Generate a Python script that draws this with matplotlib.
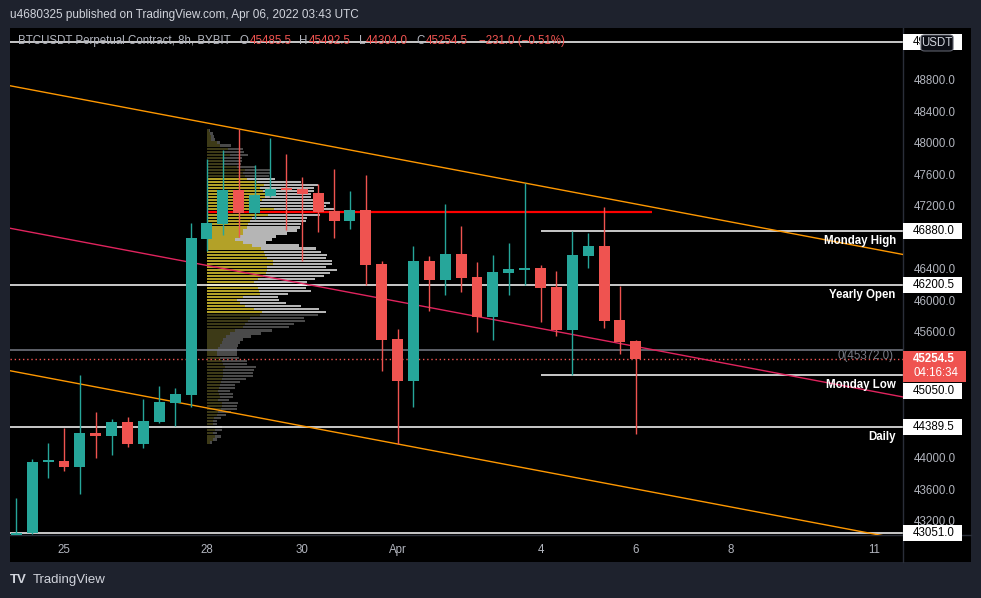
import numpy as np
import pandas as pd
import matplotlib
matplotlib.use('Agg')
import matplotlib.pyplot as plt
import matplotlib.dates as mdates
import matplotlib.transforms as mtransforms
from matplotlib.patches import Rectangle, FancyBboxPatch

plt.rcParams['font.family'] = ['Liberation Sans', 'DejaVu Sans']

# ---------------- data ----------------
times = pd.date_range('2022-03-24 00:00', periods=40, freq='8h')
opens = [42980, 43045, 43949, 43962, 43885, 44317, 44279, 44457, 44178, 44457,
         44698, 44800, 46781, 46971, 47403, 47111, 47327, 47416, 47416, 47365,
         47136, 47009, 47149, 46463, 45511, 44978, 46501, 46260, 46590, 46298,
         45790, 46349, 46387, 46413, 46171, 45625, 46565, 46692, 45752, 45485.5]
highs = [43490, 43987, 44190, 44381, 45054, 44584, 44495, 44520, 44749, 44914,
         44889, 46984, 47797, 47911, 48178, 47721, 48064, 47860, 47568, 47479,
         47670, 47390, 47594, 46501, 45638, 46692, 46565, 47225, 46946, 46489,
         46578, 46730, 47492, 46451, 46375, 46880, 46857, 47187, 46184, 45492.5]
lows = [42900, 43030, 43745, 43834, 43543, 44000, 44038, 44140, 44127, 44444,
        44406, 44647, 46629, 46832, 46806, 47035, 47314, 46895, 46502, 46870,
        46794, 46908, 46197, 45105, 44178, 44647, 45867, 46070, 46108, 45600,
        45498, 46070, 46197, 45727, 45549, 45050, 46413, 45651, 45321, 44304.0]
closes = [43045, 43949, 43975, 43885, 44317, 44280, 44457, 44178, 44470, 44711,
          44813, 46794, 46984, 47403, 47111, 47340, 47416, 47400, 47352, 47124,
          47009, 47149, 46451, 45498, 44978, 46501, 46260, 46590, 46286, 45790,
          46362, 46400, 46412, 46159, 45625, 46578, 46692, 45740, 45473, 45254.5]

# volume profile (rows from top to bottom, relative volume)
profile_top = 48178.0
profile_bottom = 44178.0
profile_start = '2022-03-28 00:00'
vol_total = [9, 17, 21, 24, 39, 72, 107, 111, 122, 105, 104, 102, 144, 189, 189, 187,
             204, 282, 333, 319, 321, 312, 312, 351, 369, 357, 379, 369, 339, 299, 297, 282,
             279, 269, 239, 207, 195, 177, 276, 327, 341, 359, 357, 374, 375, 357, 389, 369,
             351, 324, 299, 299, 297, 311, 243, 213, 214, 237, 282, 336, 357, 333, 291, 294,
             261, 244, 194, 161, 132, 109, 99, 92, 89, 91, 89, 97, 120, 121, 147, 141,
             139, 137, 117, 99, 84, 84, 69, 77, 77, 66, 94, 89, 90, 71, 57, 42,
             30, 29, 45, 45, 31, 42, 30, 14]
vol_up = [5, 9, 11, 13, 29, 39, 64, 49, 69, 49, 49, 49, 89, 114, 109, 114,
          121, 149, 171, 159, 167, 179, 174, 164, 154, 159, 199, 189, 184, 134, 129, 124,
          119, 109, 107, 99, 84, 107, 134, 161, 171, 174, 179, 197, 197, 181, 179, 177,
          169, 154, 141, 149, 154, 157, 159, 109, 89, 99, 114, 141, 164, 159, 129, 124,
          114, 109, 84, 69, 57, 49, 44, 39, 34, 31, 31, 39, 44, 49, 54, 49,
          49, 47, 44, 41, 39, 37, 34, 37, 39, 34, 44, 44, 41, 34, 29, 21,
          19, 17, 24, 24, 19, 24, 17, 9]
value_area_first, value_area_last = 16, 60

# horizontal levels
top_level = 49280.0
monday_high = 46880.0
yearly_open = 46200.5
fib0 = 45372.0
last_price = 45254.5
monday_low = 45050.0
daily_level = 44389.5
bottom_level = 43051.0
red_level = 47124.0
red_level_span = ('2022-03-28 00:00', '2022-04-06 08:00')
monday_start = '2022-04-04 00:00'

# channel anchors
upper_a = ('2022-03-28 16:00', 48178.0)
upper_b = ('2022-04-03 16:00', 47492.0)
lower_a = ('2022-04-01 00:00', 44178.0)

# price-scale ticks visible in the reference (others are hidden under level labels)
y_ticks = [43200, 43600, 44000, 45600, 46000, 46400, 47200, 47600, 48000, 48400, 48800]
x_tick_dates = ['2022-03-25', '2022-03-28', '2022-03-30', '2022-04-01',
                '2022-04-04', '2022-04-06', '2022-04-08', '2022-04-11']
x_tick_labels = ['25', '28', '30', 'Apr', '4', '6', '8', '11']
x_range = ('2022-03-23 20:48', '2022-04-11 14:34')
y_range = (43022, 49460)

# ---------------- style ----------------
UP = '#26a69a'
DOWN = '#ef5350'
BG_OUT = '#1e222d'
AXTXT = '#b2b5be'
SEP = '#2a2e39'

W, H = 981, 598
fig = plt.figure(figsize=(W / 100, H / 100), dpi=100)
fig.patch.set_facecolor(BG_OUT)


def fx(px):
    return px / W


def fy(py):
    return 1 - py / H


fig.add_artist(Rectangle((fx(10), fy(562)), fx(971) - fx(10), fy(28) - fy(562),
                         transform=fig.transFigure, facecolor='black', edgecolor='none', zorder=-5))

ax = fig.add_axes([fx(10), fy(535), fx(903) - fx(10), fy(28) - fy(535)])
ax.set_facecolor('black')
ax.patch.set_alpha(0)
for s in ['top', 'left']:
    ax.spines[s].set_visible(False)
for s in ['right', 'bottom']:
    ax.spines[s].set_color(SEP)
    ax.spines[s].set_linewidth(1)

dn = lambda s: mdates.date2num(pd.Timestamp(s))
t = mdates.date2num(times)
ax.set_xlim(dn(x_range[0]), dn(x_range[1]))
ax.set_ylim(*y_range)
x0, x1 = ax.get_xlim()

# volume profile
n_rows = len(vol_total)
step = (profile_top - profile_bottom) / n_rows
centers = profile_top - (np.arange(n_rows) + 0.5) * step
vmax = max(vol_total)
prof_w = 2.73  # days for the max row
vt = np.array(vol_total) / vmax * prof_w
vu = np.array(vol_up) / vmax * prof_w
in_va = (np.arange(n_rows) >= value_area_first) & (np.arange(n_rows) <= value_area_last)
up_c = np.where(in_va, '#b3a128', '#3d3a17')
dn_c = np.where(in_va, '#b5b5b5', '#4a4a4a')
ps = dn(profile_start)
ax.barh(centers, vu, left=ps, height=step * 0.74, color=list(up_c), zorder=1, linewidth=0)
ax.barh(centers, vt - vu, left=ps + vu, height=step * 0.74, color=list(dn_c), zorder=1, linewidth=0)

# horizontal levels
lw_w = 1.1
ax.axhline(top_level, color='white', lw=lw_w, zorder=2)
ax.axhline(yearly_open, color='white', lw=lw_w, zorder=2)
ax.axhline(daily_level, color='white', lw=lw_w, zorder=2)
ax.axhline(bottom_level, color='white', lw=lw_w, zorder=2)
ax.axhline(fib0, color='#787b86', lw=lw_w, zorder=2)
ax.axhline(last_price, color=DOWN, lw=1, ls=(0, (1, 2)), zorder=2)
ax.hlines([monday_high, monday_low], dn(monday_start), x1, color='white', lw=lw_w, zorder=2)
ax.hlines(red_level, dn(red_level_span[0]), dn(red_level_span[1]), color='#ff0000', lw=1.6, zorder=3)

# channel
ua_x, ub_x, la_x = dn(upper_a[0]), dn(upper_b[0]), dn(lower_a[0])
slope = (upper_b[1] - upper_a[1]) / (ub_x - ua_x)
xs = np.array([x0, x1])
upper = upper_a[1] + slope * (xs - ua_x)
lower = lower_a[1] + slope * (xs - la_x)
ax.plot(xs, upper, color='#ff9800', lw=1, zorder=3)
ax.plot(xs, lower, color='#ff9800', lw=1, zorder=3)
ax.plot(xs, (upper + lower) / 2, color='#e0245e', lw=1, zorder=3)

# candles
o, h, l, c = map(np.array, (opens, highs, lows, closes))
cols = np.where(c >= o, UP, DOWN)
ax.vlines(t, l, h, colors=list(cols), lw=1, zorder=4)
body_lo = np.minimum(o, c)
body_h = np.maximum(np.abs(c - o), 25)
ax.bar(t, body_h, bottom=body_lo, width=0.23, color=list(cols), zorder=5, linewidth=0)

# axes ticks
ax.yaxis.tick_right()
ax.set_yticks(y_ticks)
ax.set_yticklabels([f'{v:.1f}' for v in y_ticks])
ax.set_xticks([dn(d) for d in x_tick_dates])
ax.set_xticklabels(x_tick_labels)
ax.tick_params(axis='y', length=0, pad=7.5, labelsize=8.3, labelcolor=AXTXT)
ax.tick_params(axis='x', length=0, pad=6.5, labelsize=8.3, labelcolor=AXTXT)

# separators extending into axes panels
fig.add_artist(plt.Line2D([fx(903), fx(903)], [fy(535), fy(562)], color=SEP, lw=1, transform=fig.transFigure))
fig.add_artist(plt.Line2D([fx(903), fx(971)], [fy(535), fy(535)], color=SEP, lw=1, transform=fig.transFigure))

# line labels
blend = mtransforms.blended_transform_factory(ax.transAxes, ax.transData)
def line_label(price, text, dy, color='white', xa=0.992, bold=True):
    tr = mtransforms.offset_copy(blend, fig=fig, y=-dy, units='dots')
    ax.text(xa, price, text, transform=tr, ha='right', va='center', color=color,
            fontsize=8.3, fontweight='bold' if bold else 'normal', zorder=6)

line_label(monday_high, 'Monday High', 10)
line_label(yearly_open, 'Yearly Open', 10)
line_label(monday_low, 'Monday Low', 10)
line_label(daily_level, 'Daily', 10)
line_label(fib0, f'0({fib0:.1f})', 6.5, color='#787b86', xa=0.989, bold=False)

# right-axis price boxes
def py_of(price):
    return H - ax.transData.transform((x0, price))[1]

def price_box(price, text, fc='white', tc='black', w=59, hh=16, dy=0, clip_w=None):
    yc = py_of(price) + dy
    fig.add_artist(Rectangle((fx(903), fy(yc + hh / 2)), fx(903 + w) - fx(903), fy(yc - hh / 2) - fy(yc + hh / 2),
                             transform=fig.transFigure, facecolor=fc, edgecolor='none', zorder=5))
    tt = fig.text(fx(913), fy(yc), text, color=tc, fontsize=8.3, ha='left', va='center', zorder=6)
    if clip_w is not None:
        from matplotlib.transforms import Bbox
        tt.set_clip_box(Bbox.from_extents(903, H - yc - hh / 2, 903 + clip_w, H - yc + hh / 2))
        tt.set_clip_on(True)

price_box(top_level, f'{top_level:.1f}', clip_w=17)
price_box(monday_high, f'{monday_high:.1f}')
price_box(yearly_open, f'{yearly_open:.1f}')
price_box(monday_low, f'{monday_low:.1f}', dy=15.5)
price_box(daily_level, f'{daily_level:.1f}')
price_box(bottom_level, f'{bottom_level:.1f}')

# last price box
yc = py_of(last_price)
fig.add_artist(Rectangle((fx(903), fy(382)), fx(966) - fx(903), fy(yc - 8) - fy(382),
                         transform=fig.transFigure, facecolor=DOWN, edgecolor='none', zorder=7))
fig.text(fx(913), fy(yc), f'{last_price:.1f}', color='white', fontsize=8.3, fontweight='bold',
         ha='left', va='center', zorder=8)
fig.text(fx(913), fy(yc + 14), '04:16:34', color='white', fontsize=8.3, ha='left', va='center', zorder=8)

# USDT box
fig.add_artist(FancyBboxPatch((fx(921), fy(51)), fx(953) - fx(921), fy(35) - fy(51),
                              boxstyle='round,pad=0,rounding_size=0.004', transform=fig.transFigure,
                              facecolor='#0c0e15', edgecolor='#5d606b', lw=0.8, zorder=7))
fig.text(fx(937), fy(43), 'USDT', color='#d1d4dc', fontsize=8.3, ha='center', va='center', zorder=8)

# header
fig.text(fx(10), fy(15), 'u4680325 published on TradingView.com, Apr 06, 2022 03:43 UTC',
         color='#d1d4dc', fontsize=8.5, ha='left', va='center')

fig.canvas.draw()
rend = fig.canvas.get_renderer()
chg = closes[-1] - opens[-1]
pieces = [('BTCUSDT Perpetual Contract, 8h, BYBIT', AXTXT, 9),
          ('O', AXTXT, 1), (f'{opens[-1]:.1f}', DOWN, 8),
          ('H', AXTXT, 1), (f'{highs[-1]:.1f}', DOWN, 8),
          ('L', AXTXT, 1), (f'{lows[-1]:.1f}', DOWN, 8),
          ('C', AXTXT, 1), (f'{closes[-1]:.1f}', DOWN, 11),
          (f'\u2212{abs(chg):.1f} (\u2212{abs(chg) / opens[-1] * 100:.2f}%)', DOWN, 0)]
xp = 18
for s, col, gap in pieces:
    tt = fig.text(fx(xp), fy(41), s, color=col, fontsize=8.3, ha='left', va='center', zorder=8)
    bb = tt.get_window_extent(renderer=rend)
    xp += bb.width + gap

# footer logo
fig.text(fx(10), fy(580), 'TV', color='#d1d4dc', fontsize=9.5, fontweight='heavy', ha='left', va='center')
fig.text(fx(33), fy(580), 'TradingView', color='#d1d4dc', fontsize=9.5, ha='left', va='center')

fig.savefig('out.png', dpi=100, facecolor=fig.get_facecolor())
